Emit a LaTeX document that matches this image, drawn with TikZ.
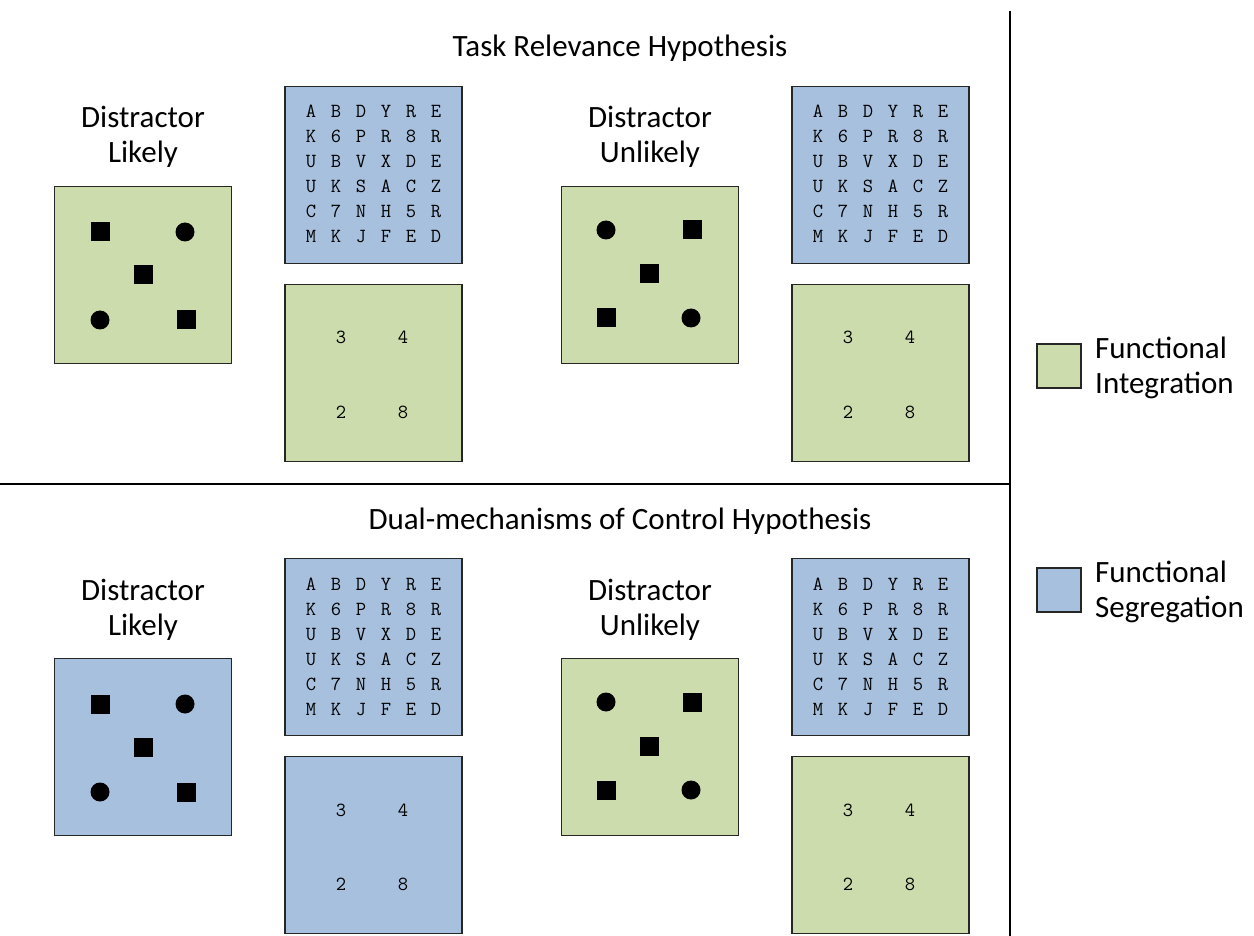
\documentclass[tikz,border=0pt]{standalone}
\usepackage{fontspec}
\setmainfont{Carlito}
\definecolor{fgreen}{RGB}{205,220,172}
\definecolor{fblue}{RGB}{167,192,222}
\tikzset{
  panel/.style={draw=black!85, line width=1.1pt, minimum width=177pt, minimum height=177pt, inner sep=0pt, outer sep=0pt},
  gpanel/.style={panel, fill=fgreen},
  bpanel/.style={panel, fill=fblue},
  sqmark/.style={fill=black, minimum size=19pt, inner sep=0pt},
  circmark/.style={circle, fill=black, minimum size=19pt, inner sep=0pt},
  lbl/.style={font=\fontsize{31}{36}\selectfont, anchor=base, inner sep=0pt},
  legtext/.style={font=\fontsize{31}{36}\selectfont, anchor=base west, inner sep=0pt},
  legbox/.style={draw=black!85, line width=1.1pt, minimum size=44pt, inner sep=0pt},
  monotext/.style={font=\ttfamily\fontsize{20}{24}\selectfont, anchor=base, inner sep=0pt},
  divider/.style={line width=2.8pt}
}
\newcommand\letterrow[3]{%
  \foreach \c [count=\i] in {#3} {\node[monotext] (r#1c\i) at ({311+25*(\i-1)},#2) {\c};}}
% #1 second label line, #2 distractor fill, #3 number fill, #4 likely(1)/unlikely(0)
\newcommand\stimset[4]{%
  \node[lbl] (lab1) at (143,128) {Distractor};
  \node[lbl] (lab2) at (143,163) {#1};
  \node[#2] (dbox) at (143,275) {};
  \node[bpanel] (lbox) at (373.5,175) {};
  \node[#3] (nbox) at (373.5,373) {};
  \ifnum#4=1
    \node[sqmark] (s1) at (100,232) {};
    \node[circmark] (s2) at (185,232) {};
    \node[sqmark] (s3) at (143,275) {};
    \node[circmark] (s4) at (100,320) {};
    \node[sqmark] (s5) at (186,320) {};
  \else
    \node[circmark] (s1) at (99,230) {};
    \node[sqmark] (s2) at (185,230) {};
    \node[sqmark] (s3) at (142,274) {};
    \node[sqmark] (s4) at (99,318) {};
    \node[circmark] (s5) at (184,318) {};
  \fi
  \letterrow{1}{118}{A,B,D,Y,R,E}
  \letterrow{2}{143}{K,6,P,R,8,R}
  \letterrow{3}{168}{U,B,V,X,D,E}
  \letterrow{4}{193}{U,K,S,A,C,Z}
  \letterrow{5}{218}{C,7,N,H,5,R}
  \letterrow{6}{243}{M,K,J,F,E,D}
  \node[monotext] (n1) at (341,344) {3};
  \node[monotext] (n2) at (403,344) {4};
  \node[monotext] (n3) at (341,418) {2};
  \node[monotext] (n4) at (403,418) {8};
}
\begin{document}
\begin{tikzpicture}[x=1pt,y=-1pt]
\useasboundingbox[fill=white] (0,0) rectangle (1254,936);
\node[lbl] (title1) at (620,57) {Task Relevance Hypothesis};
\node[lbl] (title2) at (620,529) {Dual-mechanisms of Control Hypothesis};
\begin{scope}[name prefix=tl-]
  \stimset{Likely}{gpanel}{gpanel}{1}
\end{scope}
\begin{scope}[shift={(507,0)}, name prefix=tr-]
  \stimset{Unlikely}{gpanel}{gpanel}{0}
\end{scope}
\begin{scope}[shift={(0,472)}, name prefix=bl-]
  \stimset{Likely}{bpanel}{bpanel}{1}
\end{scope}
\begin{scope}[shift={(507,472)}, name prefix=br-]
  \stimset{Unlikely}{gpanel}{gpanel}{0}
\end{scope}
\coordinate (vtop) at (1010,11);
\coordinate (vbot) at (1010,936);
\coordinate (hleft) at (0,484);
\coordinate (hright) at (1010,484);
\draw[divider] (vtop) -- (vbot);
\draw[divider] (hleft) -- (hright);
\node[legbox, fill=fgreen] (leg1) at (1059,366) {};
\node[legtext] (leg1a) at (1095,358) {Functional};
\node[legtext] (leg1b) at (1095,393) {Integration};
\node[legbox, fill=fblue] (leg2) at (1059,590) {};
\node[legtext] (leg2a) at (1095,582) {Functional};
\node[legtext] (leg2b) at (1095,617) {Segregation};
\end{tikzpicture}
\end{document}
